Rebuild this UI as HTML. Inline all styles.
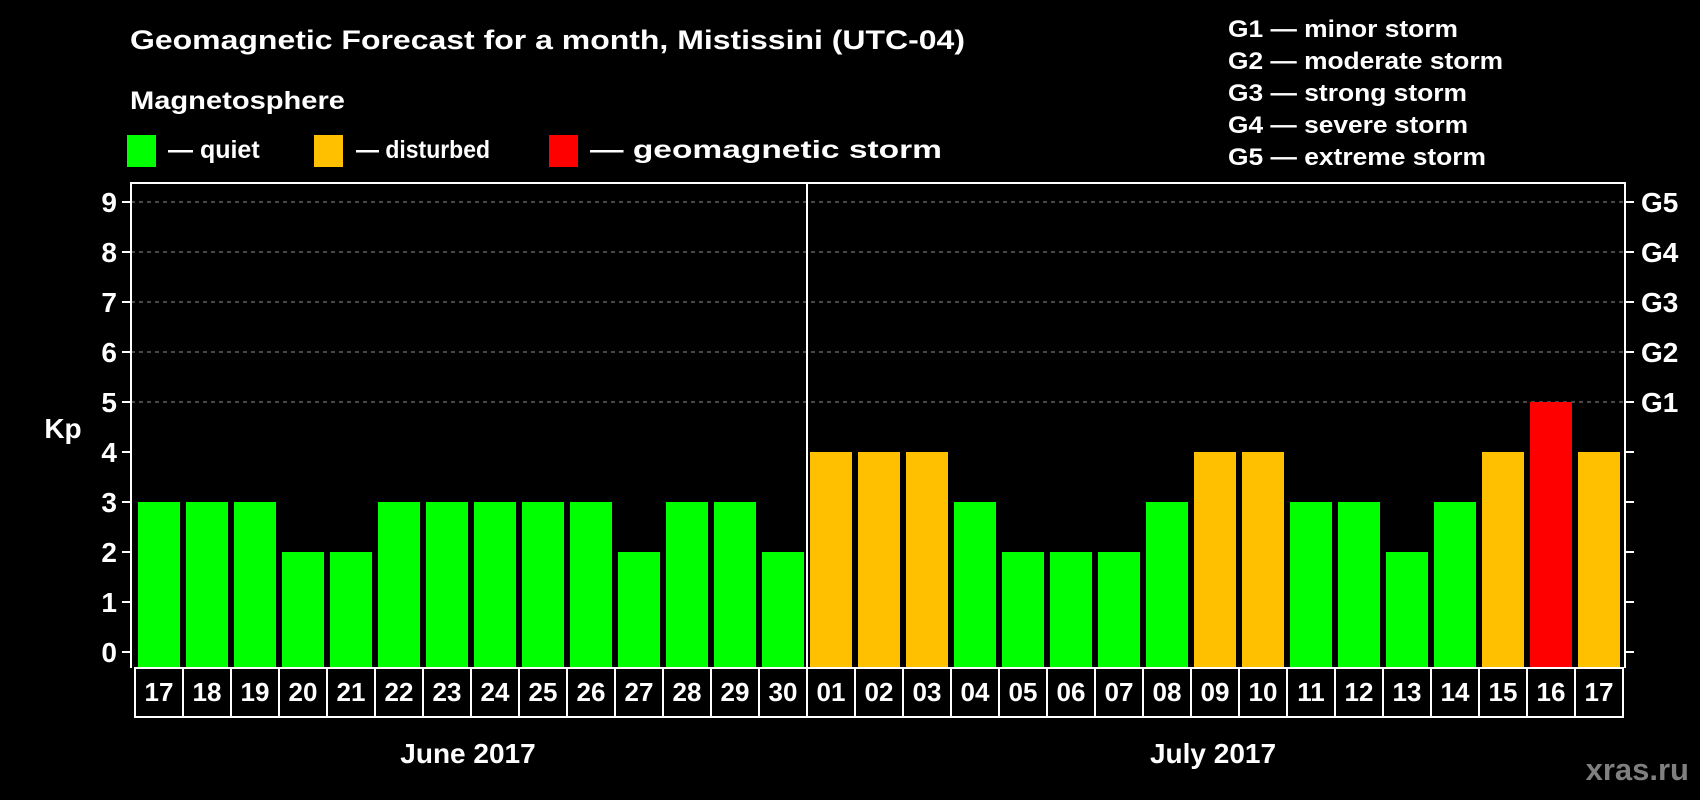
<!DOCTYPE html>
<html><head><meta charset="utf-8"><style>
html,body{margin:0;padding:0;background:#000;}
svg{display:block;font-family:"Liberation Sans",Arial,sans-serif;font-weight:bold;}
</style></head><body>
<svg id="chart" width="1700" height="800" viewBox="0 0 1700 800" xmlns="http://www.w3.org/2000/svg">
<rect width="1700" height="800" fill="#000"/>
<text x="130" y="49" fill="#fff" font-size="27" textLength="835" lengthAdjust="spacingAndGlyphs">Geomagnetic Forecast for a month, Mistissini (UTC-04)</text>
<text x="130" y="109" fill="#fff" font-size="25" textLength="215" lengthAdjust="spacingAndGlyphs">Magnetosphere</text>
<g><rect x="127" y="135" width="29" height="32" fill="#00ff00"/><text x="168" y="158" fill="#fff" font-size="25">— quiet</text></g>
<g><rect x="314" y="135" width="29" height="32" fill="#ffc000"/><text x="356" y="158" fill="#fff" font-size="25" textLength="134" lengthAdjust="spacingAndGlyphs">— disturbed</text></g>
<g><rect x="549" y="135" width="29" height="32" fill="#ff0000"/><text x="590" y="158" fill="#fff" font-size="25" textLength="352" lengthAdjust="spacingAndGlyphs">— geomagnetic storm</text></g>
<g fill="#fff" font-size="24">
<text x="1228" y="37" textLength="230" lengthAdjust="spacingAndGlyphs">G1 — minor storm</text>
<text x="1228" y="69" textLength="275" lengthAdjust="spacingAndGlyphs">G2 — moderate storm</text>
<text x="1228" y="101" textLength="239" lengthAdjust="spacingAndGlyphs">G3 — strong storm</text>
<text x="1228" y="133" textLength="240" lengthAdjust="spacingAndGlyphs">G4 — severe storm</text>
<text x="1228" y="165" textLength="258" lengthAdjust="spacingAndGlyphs">G5 — extreme storm</text>
</g>
<text x="63" y="438" fill="#fff" font-size="28" text-anchor="middle">Kp</text>
<g id="plot"></g>
<text x="468" y="763" fill="#fff" font-size="28" text-anchor="middle">June 2017</text>
<text x="1213" y="763" fill="#fff" font-size="28" text-anchor="middle">July 2017</text>
<text x="1689" y="780" fill="#808080" font-size="31" text-anchor="end">xras.ru</text>
</svg>
<script>
const days = ["17","18","19","20","21","22","23","24","25","26","27","28","29","30","01","02","03","04","05","06","07","08","09","10","11","12","13","14","15","16","17"];
const kpValues = [3,3,3,2,2,3,3,3,3,3,2,3,3,2,4,4,4,3,2,2,2,3,4,4,3,3,2,3,4,5,4];
const yTicks = [0,1,2,3,4,5,6,7,8,9];
const gLabels = ["G1","G2","G3","G4","G5"];
const monthBreakIndex = 14;

const NS = "http://www.w3.org/2000/svg";
const plot = document.getElementById("plot");
const X0 = 135, CELL = 48, LEFT = 131, RIGHT = 1625, TOP = 183, BOTTOM = 668;
function yScale(v){ return 652 - v * 50; }
function xScale(i){ return X0 + i * CELL; }
function mk(tag, attrs){ const e = document.createElementNS(NS, tag); for (const k in attrs) e.setAttribute(k, attrs[k]); plot.appendChild(e); return e; }
function colorFor(v){ return v >= 5 ? "#ff0000" : (v >= 4 ? "#ffc000" : "#00ff00"); }

// grid (5..9)
yTicks.forEach(t => {
  if (t >= 5) {
    const g = mk("line", {x1: LEFT, x2: RIGHT, y1: yScale(t), y2: yScale(t), stroke: "#909090", "stroke-width": 1, "stroke-dasharray": "4,4"});
    
    
  }
  const tk = mk("line", {x1: LEFT - 9, x2: LEFT, y1: yScale(t), y2: yScale(t), stroke: "#fff", "stroke-width": 2});
  
  
  const tr = mk("line", {x1: RIGHT, x2: RIGHT + 9, y1: yScale(t), y2: yScale(t), stroke: "#fff", "stroke-width": 2});
  
  
  const lb = mk("text", {x: 117, y: yScale(t) + 10, fill: "#fff", "font-size": 28, "text-anchor": "end"});
  lb.textContent = t;
  
  
  if (t >= 5) {
    const gl = mk("text", {x: 1641, y: yScale(t) + 10, fill: "#fff", "font-size": 28});
    gl.textContent = gLabels[t - 5];
    
    
  }
});

// bars
kpValues.forEach((v, i) => {
  const b = mk("rect", {x: xScale(i) + 3, y: yScale(v), width: 42, height: BOTTOM - yScale(v), fill: colorFor(v)});
  
  
});

// frame
const fr = mk("path", {d: `M${LEFT} ${BOTTOM} V${TOP} H${RIGHT} V${BOTTOM}`, fill: "none", stroke: "#fff", "stroke-width": 2});


const sep = mk("line", {x1: xScale(monthBreakIndex), x2: xScale(monthBreakIndex), y1: TOP, y2: BOTTOM, stroke: "#fff", "stroke-width": 2});



// day cells
days.forEach((d, i) => {
  const c = mk("rect", {x: xScale(i), y: BOTTOM, width: CELL, height: 49, fill: "#000", stroke: "#fff", "stroke-width": 2});
  
  
  const t = mk("text", {x: xScale(i) + CELL / 2, y: 701, fill: "#fff", "font-size": 26, "text-anchor": "middle"});
  t.textContent = d;
  
  
});
</script>
</body></html>
